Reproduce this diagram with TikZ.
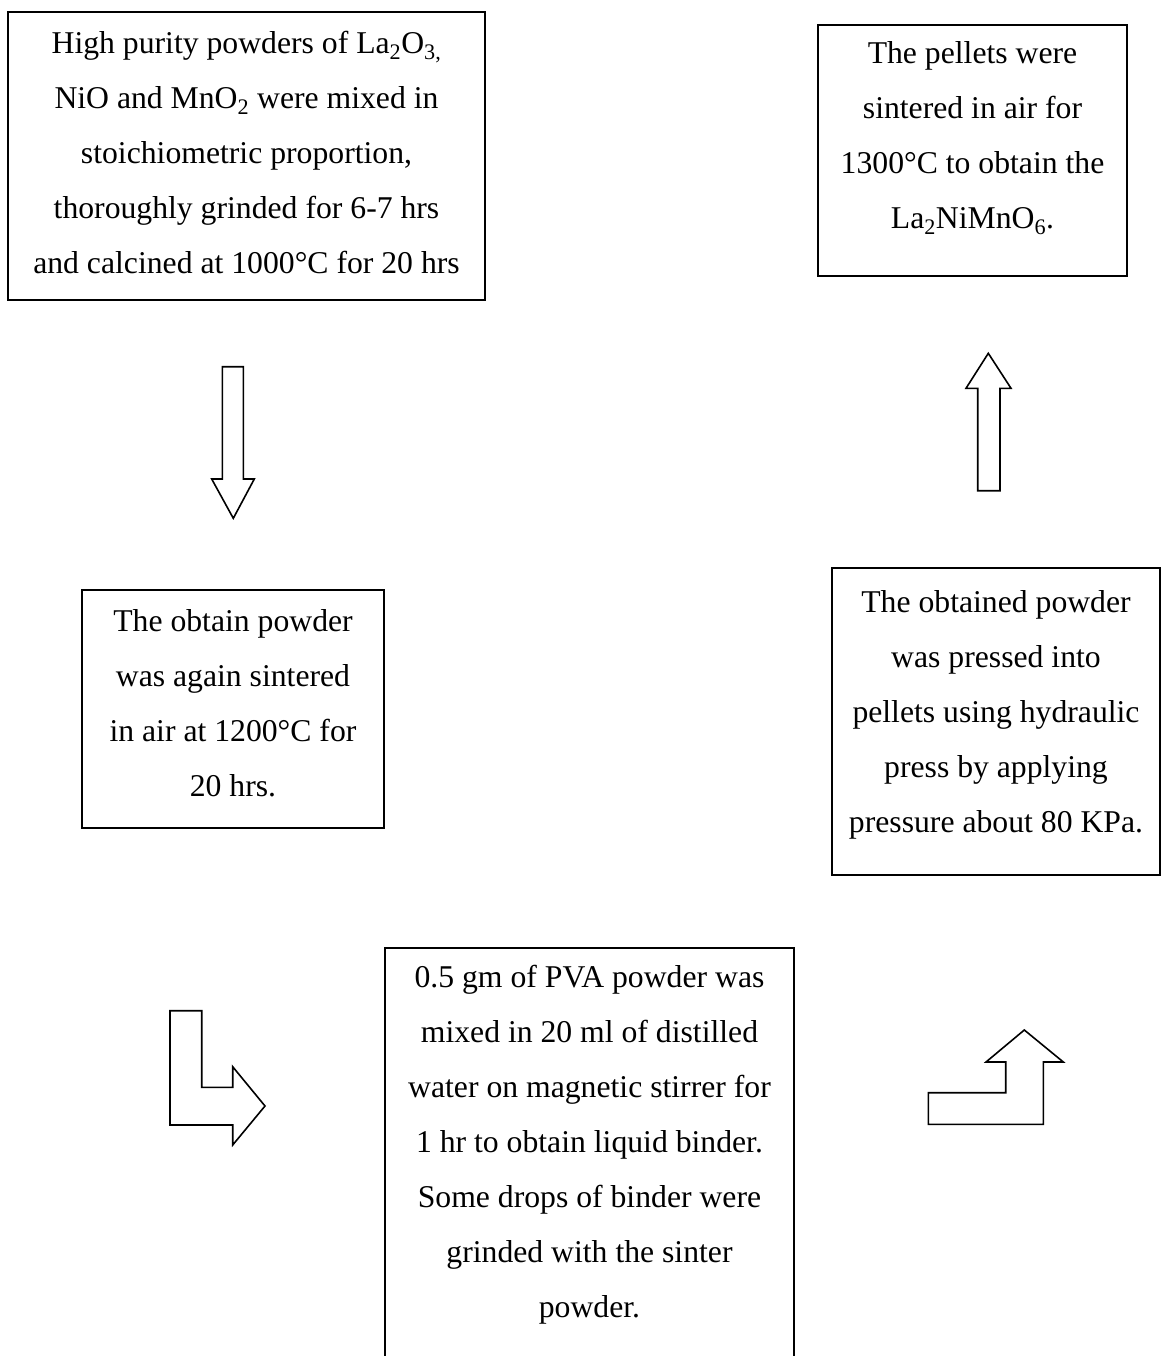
\documentclass[tikz,border=0pt]{standalone}
\usepackage{fontspec}
\setmainfont{Liberation Serif}
\begin{document}
\begin{tikzpicture}[x=1pt,y=-1pt,
  boxline/.style={draw=black,line width=1.3pt},
  blockarrow/.style={draw=black,line width=1.6pt,line join=miter,fill=white},
  txt/.style={align=center,inner sep=0pt,font=\fontsize{31.7}{55}\selectfont}]
\useasboundingbox (0,0) rectangle (1161,1356);
\clip (0,0) rectangle (1161,1356);
% boxes
\draw[boxline] (8,12) rectangle (485,300);
\draw[boxline] (818,25) rectangle (1127,276);
\draw[boxline] (82,590) rectangle (384,828);
\draw[boxline] (832,568) rectangle (1160,875);
\draw[boxline] (385,1400) -- (385,948) -- (794,948) -- (794,1400);
% texts
\node[txt] (t1) at (246.5,152) {High purity powders of La\textsubscript{2}O\textsubscript{3,}\\NiO and MnO\textsubscript{2} were mixed in\\stoichiometric proportion,\\thoroughly grinded for 6-7 hrs\\and calcined at 1000°C for 20 hrs};
\node[txt] (t2) at (972.5,138) {The pellets were\\sintered in air for\\1300°C to obtain the\\La\textsubscript{2}NiMnO\textsubscript{6}.};
\node[txt] (t3) at (233,703) {The obtain powder\\was again sintered\\in air at 1200°C for\\20 hrs.};
\node[txt] (t4) at (996,715) {The obtained powder\\was pressed into\\pellets using hydraulic\\press by applying\\pressure about 80 KPa.};
\node[txt] (t5) at (589.5,1145) {0.5 gm of PVA powder was\\mixed in 20 ml of distilled\\water on magnetic stirrer for\\1 hr to obtain liquid binder.\\Some drops of binder were\\grinded with the sinter\\powder.};
% block arrows
\draw[blockarrow] (222.3,366.7) -- (243.3,366.7) -- (243.3,479) -- (254.3,479) -- (233.3,518.3) -- (211.7,479) -- (222.3,479) -- cycle;
\draw[blockarrow] (977.7,490.7) -- (1000,490.7) -- (1000,388.3) -- (1011,388.3) -- (988.3,353.3) -- (966,388.3) -- (977.7,388.3) -- cycle;
\draw[blockarrow] (170,1010.7) -- (201.7,1010.7) -- (201.7,1087.3) -- (232.7,1087.3) -- (232.7,1066.7) -- (265,1106) -- (232.7,1145) -- (232.7,1125) -- (170,1125) -- cycle;
\draw[blockarrow] (928.3,1124.3) -- (1043.3,1124.3) -- (1043.3,1062) -- (1063.3,1062) -- (1024.3,1030) -- (986,1062) -- (1005.7,1062) -- (1005.7,1092.7) -- (928.3,1092.7) -- cycle;
\end{tikzpicture}
\end{document}
